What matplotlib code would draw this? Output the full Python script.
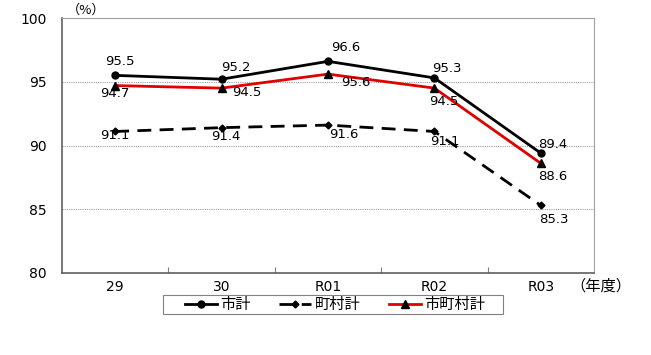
import matplotlib
matplotlib.use("Agg")
import matplotlib.pyplot as plt
from matplotlib.lines import Line2D
from matplotlib.patches import Rectangle

plt.rcParams['font.family'] = ['DejaVu Sans', 'Noto Sans CJK JP']
JP = ['Noto Sans CJK JP', 'DejaVu Sans']

categories = ["29", "30", "R01", "R02", "R03"]
shi = [95.5, 95.2, 96.6, 95.3, 89.4]
chouson = [91.1, 91.4, 91.6, 91.1, 85.3]
shichouson = [94.7, 94.5, 95.6, 94.5, 88.6]
series_names = ["市計", "町村計", "市町村計"]
yticks = [80, 85, 90, 95, 100]

W, H = 651, 355
fig = plt.figure(figsize=(W / 100, H / 100), dpi=100)
ax = fig.add_axes([62 / W, 1 - 273 / H, (594 - 62) / W, (273 - 18) / H])
x = list(range(len(categories)))

ax.plot(x, shi, color='black', lw=2, marker='o', ms=5, zorder=4)
ax.plot(x, chouson, color='black', lw=2, ls=(0, (5, 3)), marker='D', ms=3.5, zorder=3)
ax.plot(x, shichouson, color='#e00000', lw=2, marker='^', ms=5.5, mfc='black', mec='black', zorder=3)

fs = 9.5
# label offsets in pixels (dx right, dy down)
off_shi = [(5, -14), (14, -12), (18, -14), (12, -9), (12, -9)]
off_sm = [(0, 7.5), (25, 4.5), (28, 8), (9, 13), (12, 13)]
off_ch = [(0, 4.5), (4, 9), (16, 9), (10, 10), (13, 14)]
for vals, offs, z in [(shi, off_shi, 6), (shichouson, off_sm, 6), (chouson, off_ch, 2)]:
    for i, v in enumerate(vals):
        dx, dy = offs[i]
        ax.annotate(f"{v:.1f}", (i, v), xytext=(dx, -dy), textcoords='offset pixels',
                    ha='center', va='center', fontsize=fs, zorder=z)

ax.set_xlim(-0.5, len(categories) - 0.5)
ax.set_ylim(80, 100)
ax.set_yticks(yticks)
ax.set_yticklabels([str(t) for t in yticks], fontsize=10)
ax.set_xticks([i + 0.5 for i in range(len(categories) - 1)])
ax.set_xticklabels([])
ax.set_xticks(x, minor=True)
ax.set_xticklabels(categories, minor=True, fontsize=10)
ax.tick_params(axis='x', which='major', length=4, direction='in', color='#808080')
ax.tick_params(axis='x', which='minor', length=0, pad=5)
ax.tick_params(axis='y', length=0, pad=11)
for t in [85, 90, 95]:
    ax.axhline(t, color='#a0a0a0', lw=0.8, ls=(0, (1, 1)), zorder=1)
for s in ['top', 'right']:
    ax.spines[s].set_color('#a0a0a0')
for s in ['left', 'bottom']:
    ax.spines[s].set_color('#606060')
    ax.spines[s].set_linewidth(1.2)

fig.text(86 / W, 1 - 10 / H, "（%）", fontsize=9.5, ha='center', va='center', family=JP)
fig.text(601 / W, 1 - 286 / H, "（年度）", fontsize=11, ha='center', va='center', family=JP)

# legend frame
fig.patches.append(Rectangle((163 / W, 1 - 314 / H), (503 - 163) / W, 19 / H,
                             transform=fig.transFigure, fill=False, edgecolor='#808080', lw=0.8))
handles = [
    Line2D([], [], color='black', lw=2, marker='o', ms=5),
    Line2D([], [], color='black', lw=2, ls=(0, (5, 3)), marker='D', ms=3.5),
    Line2D([], [], color='#e00000', lw=2, marker='^', ms=5.5, mfc='black', mec='black'),
]
leg = fig.legend(handles, series_names, loc='center', bbox_to_anchor=(335 / W, 1 - 304.5 / H),
                 ncol=3, frameon=False, prop={'family': JP, 'size': 11},
                 handlelength=2.1, columnspacing=1.9, borderpad=0.1, handletextpad=0.2)

fig.savefig("out.png", dpi=100)
